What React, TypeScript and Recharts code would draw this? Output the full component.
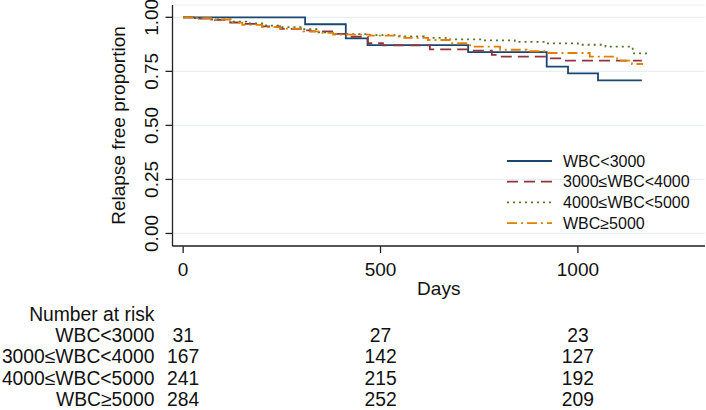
import React from "react";
import {
  LineChart,
  Line,
  XAxis,
  YAxis,
  CartesianGrid,
  Legend,
  ScatterChart,
  Scatter,
  Label,
} from "recharts";

// ---- Kaplan-Meier step data (days, relapse-free proportion) ----
const days1 = [0, 309, 412, 467, 722, 921, 975, 1051, 1162];
const surv1 = [1, 0.968, 0.903, 0.871, 0.839, 0.772, 0.741, 0.708, 0.708];

const days2 = [0, 40, 80, 119, 144, 200, 246, 304, 322, 390, 415, 468, 506, 625, 727, 782, 803, 924, 962, 1162];
const surv2 = [1, 0.994, 0.988, 0.976, 0.97, 0.958, 0.947, 0.94, 0.935, 0.923, 0.91, 0.88, 0.87, 0.852, 0.846, 0.826, 0.818, 0.81, 0.8, 0.8];

const days3 = [0, 30, 70, 120, 160, 210, 250, 300, 343, 380, 473, 540, 610, 676, 760, 840, 920, 1000, 1070, 1139, 1180];
const surv3 = [1, 0.996, 0.99, 0.98, 0.972, 0.962, 0.955, 0.945, 0.93, 0.922, 0.918, 0.912, 0.905, 0.898, 0.893, 0.886, 0.879, 0.873, 0.864, 0.833, 0.833];

const days4 = [0, 30, 70, 119, 150, 200, 246, 304, 343, 380, 473, 560, 620, 676, 727, 803, 870, 922, 1030, 1099, 1137, 1165];
const surv4 = [1, 0.996, 0.99, 0.975, 0.965, 0.955, 0.948, 0.935, 0.928, 0.92, 0.915, 0.905, 0.895, 0.88, 0.864, 0.85, 0.843, 0.835, 0.818, 0.8, 0.784, 0.784];

const seriesNames = ["WBC<3000", "3000≤WBC<4000", "4000≤WBC<5000", "WBC≥5000"];
const seriesColors = ["#1a476f", "#90353b", "#55752f", "#e37e00"];
const seriesDashes = ["", "11 6", "2 4", "10 4 2 4"];

// ---- axes ----
const xTicks = [0, 500, 1000];
const yTicks = [0, 0.25, 0.5, 0.75, 1];

// ---- number at risk table ----
const riskDays = [0, 500, 1000];
const riskTitle = "Number at risk";
const risk1 = [31, 27, 23];
const risk2 = [167, 142, 127];
const risk3 = [241, 215, 192];
const risk4 = [284, 252, 209];

const FONT = "'Liberation Sans', Arial, sans-serif";
const TXT = "#111";

const toSeries = (d: number[], s: number[]) => d.map((day, i) => ({ day, s: s[i] }));
const allSeries = [
  toSeries(days1, surv1),
  toSeries(days2, surv2),
  toSeries(days3, surv3),
  toSeries(days4, surv4),
];

const riskRows = [risk1, risk2, risk3, risk4];
const riskData = riskRows.flatMap((vals, r) =>
  riskDays.map((day, i) => ({ day, row: r + 1, n: vals[i] }))
);
const rowLabels = [riskTitle, ...seriesNames];

const XTick = (props: any) => {
  const { x, y, payload } = props;
  return (
    <text x={x} y={y} dy="0.71em" textAnchor="middle" fill={TXT} fontSize={19} fontFamily={FONT}>
      {payload.value}
    </text>
  );
};

const YTick = (props: any) => {
  const { x, y, payload } = props;
  return (
    <text
      x={x}
      y={y}
      transform={`rotate(-90 ${x} ${y})`}
      textAnchor="middle"
      fill={TXT}
      fontSize={19}
      fontFamily={FONT}
    >
      {Number(payload.value).toFixed(2)}
    </text>
  );
};

const RowTick = (props: any) => {
  const { x, y, payload } = props;
  return (
    <text x={x} y={y} dy="0.355em" textAnchor="end" fill={TXT} fontSize={19.3} fontFamily={FONT}>
      {rowLabels[payload.value]}
    </text>
  );
};

const RiskText = (props: any) => {
  const { cx, cy, payload } = props;
  return (
    <text x={cx} y={cy} dy="0.355em" textAnchor="middle" fill={TXT} fontSize={19.3} fontFamily={FONT}>
      {payload.n}
    </text>
  );
};

const LegendContent = () => {
  return (
    <svg width={200} height={90} style={{ display: "block" }}>
      {seriesNames.map((name, i) => {
        const y = 11 + i * 20.7;
        return (
          <g key={name}>
            <line
              x1={2}
              x2={47}
              y1={y}
              y2={y}
              stroke={seriesColors[i]}
              strokeWidth={1.8}
              strokeDasharray={seriesDashes[i] || undefined}
            />
            <text x={58} y={y} dy="0.355em" fontSize={16} fontFamily={FONT} fill={TXT}>
              {name}
            </text>
          </g>
        );
      })}
    </svg>
  );
};

export default function App() {
  return (
    <div
      style={{
        position: "absolute",
        left: 0,
        top: 0,
        width: 706,
        height: 410,
        overflow: "hidden",
        background: "#fff",
        fontFamily: FONT,
      }}
    >
      <div style={{ position: "absolute", left: 0, top: 0 }}>
        <LineChart width={706} height={300} margin={{ top: 5, right: 1, bottom: 0, left: 64.5 }}>
          <CartesianGrid horizontal vertical={false} stroke="#e6eff1" strokeWidth={1.2} />
          <XAxis
            type="number"
            dataKey="day"
            domain={[-27, 1322]}
            allowDataOverflow
            ticks={xTicks}
            tick={<XTick />}
            tickSize={7}
            tickMargin={10}
            height={54}
            stroke="#222"
            strokeWidth={1.3}
          >
            <Label value="Days" position="insideBottom" offset={5} fill={TXT} fontSize={19} fontFamily={FONT} />
          </XAxis>
          <YAxis
            type="number"
            domain={[-0.058, 1.057]}
            allowDataOverflow
            ticks={yTicks}
            tick={<YTick />}
            tickSize={7}
            tickMargin={7.5}
            width={108}
            stroke="#222"
            strokeWidth={1.3}
          >
            <Label
              value="Relapse free proportion"
              angle={-90}
              position="center"
              fill={TXT}
              fontSize={19}
              fontFamily={FONT}
            />
          </YAxis>
          <Legend
            layout="vertical"
            align="center"
            verticalAlign="middle"
            wrapperStyle={{ left: 505, top: 150, width: 200, height: 90 }}
            content={<LegendContent />}
          />
          {allSeries.map((data, i) => (
            <Line
              key={seriesNames[i]}
              data={data}
              dataKey="s"
              name={seriesNames[i]}
              type="stepAfter"
              stroke={seriesColors[i]}
              strokeWidth={1.8}
              strokeDasharray={seriesDashes[i] || undefined}
              dot={false}
              activeDot={false}
              isAnimationActive={false}
            />
          ))}
        </LineChart>
      </div>
      <div style={{ position: "absolute", left: 0, top: 300 }}>
        <ScatterChart width={706} height={110} margin={{ top: 3, right: 1, bottom: 0, left: 0 }}>
          <XAxis type="number" dataKey="day" domain={[-27, 1322]} hide />
          <YAxis
            type="number"
            dataKey="row"
            domain={[-0.5, 4.5]}
            reversed
            ticks={[0, 1, 2, 3, 4]}
            interval={0}
            tick={<RowTick />}
            tickSize={0}
            tickMargin={18}
            axisLine={false}
            tickLine={false}
            width={172.5}
          />
          <Scatter data={riskData} shape={<RiskText />} isAnimationActive={false} />
        </ScatterChart>
      </div>
    </div>
  );
}
